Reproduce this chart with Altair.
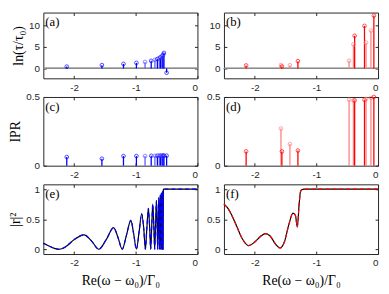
import altair as alt
import pandas as pd

# ---- data ----
# left column (blue): panel (a) ln(tau/tau0), panel (c) IPR
xa = [-2.12, -1.55, -1.20, -0.99, -0.85, -0.75, -0.69, -0.65, -0.62, -0.60, -0.58, -0.565, -0.553, -0.543, -0.50]
tau_a = [0.43, 0.77, 1.06, 1.3, 1.5, 1.77, 2.0, 2.2, 2.4, 2.6, 2.8, 3.0, 3.3, 3.6, -1.0]
ipr_a = [0.063, 0.051, 0.07, 0.07, 0.07, 0.072, 0.072, 0.073, 0.073, 0.073, 0.073, 0.073, 0.073, 0.073, 0.073]
shade_a = ["bdark", "bdark", "bdark", "bdark", "blight", "bdark", "blight", "bdark", "blight", "bdark",
           "blight", "bdark", "blight", "bdark", "bdark"]

# right column (red): panel (b) ln(tau/tau0), panel (d) IPR
xb = [-2.14, -1.575, -1.56, -1.43, -1.30, -0.47, -0.40, -0.38, -0.22, -0.195, -0.116, -0.068]
tau_b = [0.7, 0.8, 0.45, 0.75, 1.7, 1.8, 5.6, 7.6, 9.9, 6.0, 8.8, 12.3]
ipr_b = [0.104, 0.27, 0.104, 0.157, 0.11, 0.48, 0.475, 0.475, 0.48, 0.485, 0.493, 0.5]
shade_b = ["rdark", "rlight", "rdark", "rlight", "rdark", "rlight", "rlight", "rdark", "rdark",
           "rlight", "rlight", "rdark"]

# panel (e) |r|^2
xe = [-2.5, -2.4, -2.32, -2.24, -2.14, -2.0, -1.84, -1.72, -1.60, -1.48, -1.36, -1.29, -1.22,
      -1.15, -1.08, -1.035, -0.99, -0.945, -0.905, -0.87, -0.845, -0.82, -0.796, -0.775, -0.758,
      -0.741, -0.725, -0.708, -0.693, -0.679, -0.665, -0.654, -0.644, -0.635, -0.627, -0.62,
      -0.614, -0.608, -0.603, -0.598, -0.594, -0.589, -0.585, -0.581, -0.578, -0.575, -0.572,
      -0.569, -0.567, -0.564, -0.562, -0.56, -0.558, -0.553, -0.548, -0.3, 0.0]
re = [0.10, 0.05, 0.015, 0.0, 0.04, 0.16, 0.24, 0.14, 0.0, 0.16, 0.36, 0.2, 0.0,
      0.24, 0.48, 0.26, 0.0, 0.3, 0.59, 0.33, 0.0, 0.36, 0.68, 0.36, 0.0,
      0.4, 0.75, 0.4, 0.0, 0.42, 0.81, 0.43, 0.0, 0.45, 0.86, 0.45,
      0.0, 0.47, 0.9, 0.47, 0.0, 0.48, 0.93, 0.48, 0.0, 0.5, 0.95,
      0.5, 0.0, 0.5, 0.97, 0.5, 0.0, 0.99, 1.0, 1.0, 1.0]

# panel (f) |r|^2
xf = [-2.5, -2.45, -2.4, -2.3, -2.2, -2.1, -2.0, -1.9, -1.83, -1.75, -1.66, -1.59, -1.52,
      -1.45, -1.38, -1.34, -1.31, -1.28, -1.26, -1.24, -1.2, -1.0, 0.0]
rf = [0.75, 0.70, 0.62, 0.40, 0.17, 0.06, 0.12, 0.22, 0.26, 0.22, 0.08, 0.02, 0.12,
      0.40, 0.60, 0.56, 0.37, 0.75, 0.95, 0.99, 1.0, 1.0, 1.0]

XTICKS = [-2, -1, 0]
SANS = "Liberation Sans"
SERIF = "Liberation Serif"
W = 157
CSCALE = alt.Scale(domain=["bdark", "blight", "rdark", "rlight"],
                   range=["#0000ff", "#5c5cff", "#ff0000", "#ff8080"])


def ax(orient, values, labels=True, title_pad=3):
    return alt.Axis(orient=orient, values=values, labels=labels, offset=-3, tickSize=3,
                    labelPadding=4, domain=False, grid=False, labelExpr="'' + datum.value",
                    titlePadding=title_pad)


def panel_label(txt):
    return alt.Chart(pd.DataFrame({"t": [txt]})).mark_text(
        align="left", baseline="middle", font=SERIF, fontSize=13, color="black"
    ).encode(x=alt.value(2), y=alt.value(10), text="t:N")


def stem_panel(df, ycol, ydom, yvals, ytitle, label, height, zero):
    base = alt.Chart(df)
    xs = alt.Scale(domain=[-2.5, 0])
    ys = alt.Scale(domain=ydom, nice=False, zero=False)
    rules = base.mark_rule(strokeWidth=1.3).encode(
        x=alt.X("x:Q", scale=xs, axis=ax("bottom", XTICKS), title=None),
        y=alt.Y(f"{ycol}:Q", scale=ys, axis=ax("left", yvals),
                title=ytitle if ytitle else None),
        y2=alt.datum(0),
        color=alt.Color("shade:N", scale=CSCALE, legend=None),
    )
    pts = base.mark_point(shape="circle", size=14, filled=False, strokeWidth=1).encode(
        x=alt.X("x:Q", scale=xs, axis=ax("top", XTICKS, False), title=None),
        y=alt.Y(f"{ycol}:Q", scale=ys, axis=ax("right", yvals, False), title=None),
        color=alt.Color("shade:N", scale=CSCALE, legend=None),
    )
    layers = []
    if zero:
        layers.append(base.mark_rule(color="#8c8c8c", strokeWidth=1).encode(
            y=alt.Y(datum=0, scale=ys, axis=None)))
    layers += [rules, pts, panel_label(label)]
    return alt.layer(*layers).resolve_axis(x="independent", y="independent").properties(
        width=W, height=height)


def curve_panel(df, ytitle, label, dash_color, height):
    base = alt.Chart(df)
    xs = alt.Scale(domain=[-2.5, 0])
    ys = alt.Scale(domain=[-0.08, 1.08], nice=False, zero=False)
    solid = base.mark_line(color="black", strokeWidth=1.2, interpolate="monotone").encode(
        x=alt.X("x:Q", scale=xs, axis=ax("bottom", XTICKS, True, 6), title="Re(ω − ω₀)/Γ₀"),
        y=alt.Y("r:Q", scale=ys, axis=ax("left", [0, 0.5, 1]),
                title=ytitle if ytitle else None),
    )
    dashed = base.mark_line(color=dash_color, strokeWidth=1.2, strokeDash=[4, 3],
                            interpolate="monotone").encode(
        x=alt.X("x:Q", scale=xs, axis=ax("top", XTICKS, False), title=None),
        y=alt.Y("r:Q", scale=ys, axis=ax("right", [0, 0.5, 1], False), title=None),
    )
    return alt.layer(solid, dashed, panel_label(label)).resolve_axis(
        x="independent", y="independent").properties(width=W, height=height)


dfa = pd.DataFrame({"x": xa, "tau": tau_a, "ipr": ipr_a, "shade": shade_a})
dfb = pd.DataFrame({"x": xb, "tau": tau_b, "ipr": ipr_b, "shade": shade_b})
dfe = pd.DataFrame({"x": xe, "r": re})
dff = pd.DataFrame({"x": xf, "r": rf})

pa = stem_panel(dfa, "tau", [-2.3, 13], [0, 5, 10], "ln(τ/τ₀)", "(a)", 67, True)
pb = stem_panel(dfb, "tau", [-2.3, 13], [0, 5, 10], "", "(b)", 67, True)
pc = stem_panel(dfa, "ipr", [0, 0.5], [0, 0.5], "IPR", "(c)", 70, False)
pd_ = stem_panel(dfb, "ipr", [0, 0.5], [0, 0.5], "", "(d)", 70, False)
pe = curve_panel(dfe, "|r|²", "(e)", "#0000ff", 71)
pf = curve_panel(dff, "", "(f)", "#ff0000", 71)

chart = alt.concat(
    pa, pb, pc, pd_, pe, pf, columns=2,
    spacing={"row": 19, "column": 27}, bounds="flush", padding=0,
).configure_view(
    stroke="#262626", strokeWidth=1
).configure_axis(
    labelFont=SANS, labelFontSize=10, labelColor="#262626", tickColor="#262626",
    titleFont=SERIF, titleFontSize=14, titleFontWeight="normal", titleColor="black",
)

chart.save("out.html", embed_options={"renderer": "svg", "actions": False})
